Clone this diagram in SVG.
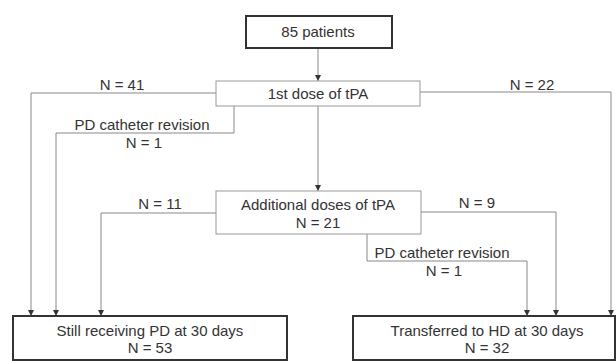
<svg xmlns="http://www.w3.org/2000/svg" width="616" height="361" viewBox="0 0 616 361">
  <defs>
    <marker id="arr" viewBox="0 0 6 6" refX="6" refY="3" markerWidth="6" markerHeight="6" markerUnits="userSpaceOnUse" orient="auto">
      <path d="M0,0 L6,3 L0,6 z" fill="#333"/>
    </marker>
  </defs>
  <style>
    text { font-family: "Liberation Sans", Arial, sans-serif; font-size: 15px; fill: #333; text-anchor: middle; }
    .thick { fill: #fff; stroke: #333; stroke-width: 2; }
    .thin { fill: #fff; stroke: #999; stroke-width: 1; }
    .conn { fill: none; stroke: #888; stroke-width: 1; marker-end: url(#arr); }
    .plain { fill: none; stroke: #888; stroke-width: 1; }
  </style>
  <rect width="616" height="361" fill="#fff"/>
  <g id="connectors">
    <path class="conn" d="M318,48 V81"/>
    <path class="conn" d="M318,106 V191"/>
    <path class="conn" d="M216,93 H31 V316"/>
    <path class="conn" d="M420,92 H611 V316"/>
    <path class="conn" d="M234,106 V133 H56 V316"/>
    <path class="conn" d="M216,213 H101 V316"/>
    <path class="conn" d="M421,212 H556 V316"/>
    <path class="conn" d="M367,234 V261 H527 V316"/>
    <text x="122" y="90">N = 41</text>
    <text x="532" y="90">N = 22</text>
    <text x="142" y="130">PD catheter revision</text>
    <text x="144" y="148">N = 1</text>
    <text x="160" y="209">N = 11</text>
    <text x="477" y="208">N = 9</text>
    <text x="442" y="258">PD catheter revision</text>
    <text x="444" y="276">N = 1</text>
  </g>
  <g id="n-patients">
    <rect class="thick" x="246" y="16" width="146" height="32"/>
    <text x="318" y="37">85 patients</text>
  </g>
  <g id="n-first-dose">
    <rect class="thin" x="216" y="81" width="204" height="25"/>
    <text x="318" y="99">1st dose of tPA</text>
  </g>
  <g id="n-additional">
    <rect class="thin" x="216" y="191" width="205" height="43"/>
    <text x="318" y="210">Additional doses of tPA</text>
    <text x="318" y="228">N = 21</text>
  </g>
  <g id="n-still-pd">
    <rect class="thick" x="13" y="316" width="274" height="44"/>
    <text x="150" y="336">Still receiving PD at 30 days</text>
    <text x="150" y="353">N = 53</text>
  </g>
  <g id="n-transferred">
    <rect class="thick" x="353" y="316" width="262" height="44"/>
    <text x="487" y="336">Transferred to HD at 30 days</text>
    <text x="487" y="353">N = 32</text>
  </g>
</svg>
